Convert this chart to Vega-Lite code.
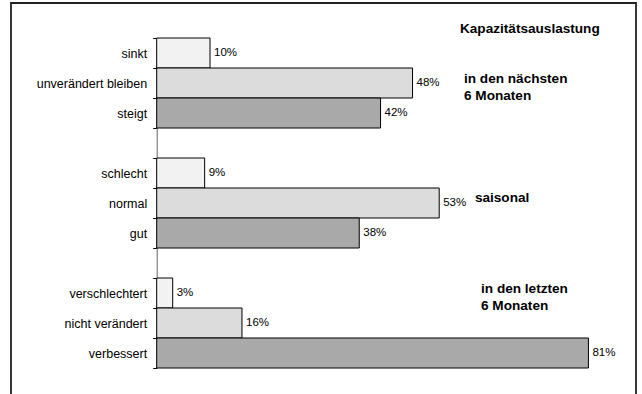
{
  "$schema": "https://vega.github.io/schema/vega-lite/v6.json",
  "width": 625,
  "height": 400,
  "autosize": "none",
  "padding": {"left": 11, "top": 3, "right": 6, "bottom": 0},
  "background": "white",
  "config": {
    "font": "Liberation Sans",
    "view": {"stroke": "#222222", "strokeWidth": 1.8}
  },
  "datasets": {
    "antworten": [
      {"kategorie": "sinkt", "wert": 0.10, "stufe": "schwach"},
      {"kategorie": "unverändert bleiben", "wert": 0.48, "stufe": "mittel"},
      {"kategorie": "steigt", "wert": 0.42, "stufe": "stark"},
      {"kategorie": "schlecht", "wert": 0.09, "stufe": "schwach"},
      {"kategorie": "normal", "wert": 0.53, "stufe": "mittel"},
      {"kategorie": "gut", "wert": 0.38, "stufe": "stark"},
      {"kategorie": "verschlechtert", "wert": 0.03, "stufe": "schwach"},
      {"kategorie": "nicht verändert", "wert": 0.16, "stufe": "mittel"},
      {"kategorie": "verbessert", "wert": 0.81, "stufe": "stark"}
    ],
    "titel": [
      {"text": "Kapazitätsauslastung", "x": 0.569, "kategorie": "sinkt"}
    ],
    "zeitraum": [
      {"text": ["in den nächsten", "6 Monaten"], "x": 0.5765, "kategorie": "unverändert bleiben"},
      {"text": ["in den letzten", "6 Monaten"], "x": 0.6085, "kategorie": "verschlechtert"}
    ],
    "saison": [
      {"text": "saisonal", "x": 0.597, "kategorie": "normal"}
    ]
  },
  "encoding": {
    "y": {
      "field": "kategorie",
      "type": "nominal",
      "scale": {
        "domain": ["sinkt", "unverändert bleiben", "steigt", "lücke1", "schlecht", "normal", "gut", "lücke2", "verschlechtert", "nicht verändert", "verbessert"],
        "range": [35, 365],
        "paddingInner": 0,
        "paddingOuter": 0
      },
      "axis": {
        "title": null,
        "orient": "left",
        "offset": -145.7,
        "tickBand": "extent",
        "tickSize": 4,
        "tickColor": "#000000",
        "domainColor": "#666666",
        "domainWidth": 1,
        "labelFontSize": 12.5,
        "labelColor": "#000000",
        "labelPadding": 6,
        "labelExpr": "indexof(['lücke1', 'lücke2'], datum.value) >= 0 ? '' : datum.value"
      }
    }
  },
  "layer": [
    {
      "data": {"name": "antworten"},
      "mark": {"type": "bar", "stroke": "#000000", "strokeWidth": 1},
      "encoding": {
        "x": {
          "field": "wert",
          "type": "quantitative",
          "scale": {"domain": [0, 0.9], "range": [145.7, 625.4], "nice": false},
          "axis": null
        },
        "fill": {
          "field": "stufe",
          "type": "nominal",
          "scale": {"domain": ["schwach", "mittel", "stark"], "range": ["#f2f2f2", "#dcdcdc", "#a9a9a9"]},
          "legend": null
        }
      }
    },
    {
      "data": {"name": "antworten"},
      "mark": {"type": "text", "align": "left", "baseline": "middle", "dx": 4, "fontSize": 11.5, "color": "#000000"},
      "encoding": {
        "x": {"field": "wert", "type": "quantitative"},
        "text": {"field": "wert", "type": "quantitative", "format": ".0%"}
      }
    },
    {
      "data": {"name": "titel"},
      "mark": {"type": "text", "align": "left", "baseline": "middle", "dy": -24, "fontSize": 13.6, "fontWeight": "bold", "color": "#000000"},
      "encoding": {
        "x": {"field": "x", "type": "quantitative"},
        "text": {"field": "text"}
      }
    },
    {
      "data": {"name": "zeitraum"},
      "mark": {"type": "text", "align": "left", "baseline": "middle", "dy": -4, "lineHeight": 17, "fontSize": 13.6, "fontWeight": "bold", "color": "#000000"},
      "encoding": {
        "x": {"field": "x", "type": "quantitative"},
        "text": {"field": "text"}
      }
    },
    {
      "data": {"name": "saison"},
      "mark": {"type": "text", "align": "left", "baseline": "middle", "dy": -5, "fontSize": 13.6, "fontWeight": "bold", "color": "#000000"},
      "encoding": {
        "x": {"field": "x", "type": "quantitative"},
        "text": {"field": "text"}
      }
    }
  ]
}
